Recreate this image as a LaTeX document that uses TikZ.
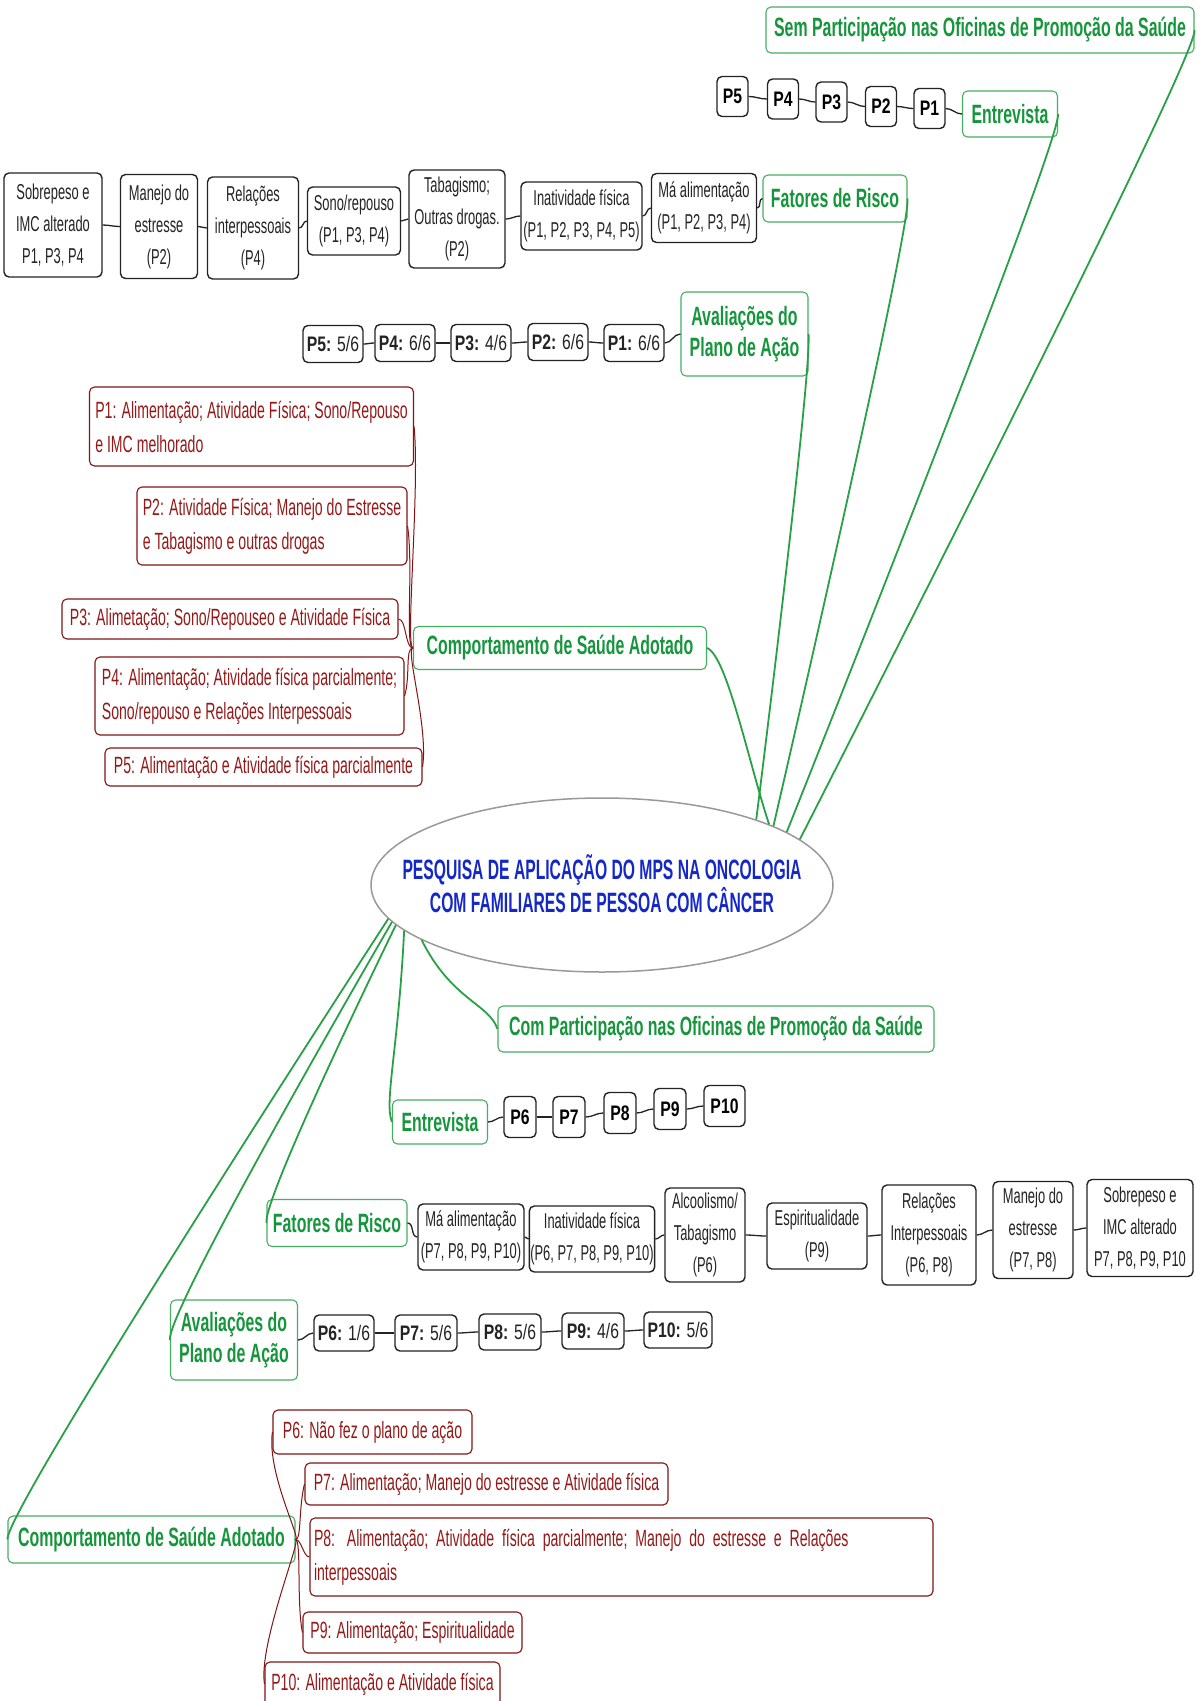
\documentclass[tikz,border=0pt]{standalone}
\usepackage{fontspec}
\setmainfont{Liberation Sans}[FakeStretch=0.6]
\newfontfamily\pfont{Liberation Sans}[FakeStretch=0.75]
\newfontfamily\titlefont{Liberation Sans}[FakeStretch=0.56]
\usetikzlibrary{shapes.geometric}
\definecolor{grn}{RGB}{22,150,60}
\definecolor{grnline}{RGB}{40,160,70}
\definecolor{grnbox}{RGB}{70,175,100}
\definecolor{dred}{RGB}{130,20,20}
\definecolor{redtxt}{RGB}{150,25,25}
\definecolor{ttlblue}{RGB}{20,40,200}
\definecolor{ink}{RGB}{35,35,35}
\tikzset{
  lvl/.style={draw=grnbox, line width=1.1pt, rounded corners=5pt, fill=white, text=grn,
    font=\fontsize{26.5}{31}\selectfont\bfseries, inner sep=2pt, align=center},
  pbox/.style={draw=ink, line width=1.4pt, rounded corners=5pt, fill=white, text=black,
    font=\pfont\fontsize{21}{22}\selectfont\bfseries, inner sep=1pt},
  fbox/.style={draw=ink, line width=1.4pt, rounded corners=5pt, fill=white, text=ink,
    font=\fontsize{21.5}{32}\selectfont, inner sep=1pt, align=center},
  abox/.style={draw=ink, line width=1.4pt, rounded corners=5pt, fill=white, text=ink,
    font=\pfont\fontsize{21}{22}\selectfont, inner sep=1pt},
  rbox/.style={draw=dred, line width=1.1pt, rounded corners=5pt, fill=white, text=redtxt,
    font=\fontsize{23.5}{34}\selectfont, inner xsep=4pt, inner ysep=2pt, align=left},
  gl/.style={draw=grnline, line width=1.8pt},
  rl/.style={draw=dred, line width=1pt},
  kl/.style={draw=ink, line width=1.3pt},
}
\begin{document}
\begin{tikzpicture}[x=1pt,y=-1pt]
\useasboundingbox (0,0) rectangle (1203,1701);
\fill[white] (0,0) rectangle (1203,1701);

% ---------- central topic ----------
\node[ellipse, draw=gray!80, line width=1.5pt, fill=white, minimum width=462, minimum height=174, inner sep=0] (ell) at (602,885) {};
\node[text=ttlblue, font=\titlefont\fontsize{28}{33}\selectfont\bfseries, align=center] (title) at (602,884)
  {PESQUISA DE APLICAÇÃO DO MPS NA ONCOLOGIA\\COM FAMILIARES DE PESSOA COM CÂNCER};

% ---------- group without workshops ----------
\node[lvl, minimum width=428, minimum height=46] (semP) at (980,30) {Sem Participação nas Oficinas de Promoção da Saúde};

\node[lvl, minimum width=95, minimum height=46] (entT) at (1010,114) {Entrevista};
\node[pbox, minimum width=31, minimum height=40] (tP1) at (929.5,108.5) {P1};
\node[pbox, minimum width=31, minimum height=40] (tP2) at (881,106.5) {P2};
\node[pbox, minimum width=31, minimum height=40] (tP3) at (831.5,102) {P3};
\node[pbox, minimum width=31, minimum height=40] (tP4) at (783,99) {P4};
\node[pbox, minimum width=31, minimum height=40] (tP5) at (732.5,96.5) {P5};

\node[lvl, minimum width=144, minimum height=47] (fatT) at (835,198.5) {Fatores de Risco};
\node[fbox, minimum width=105, minimum height=69] (maT) at (704,208) {Má alimentação\\(P1, P2, P3, P4)};
\node[fbox, minimum width=121, minimum height=68] (inT) at (581.5,216) {Inatividade física\\(P1, P2, P3, P4, P5)};
\node[fbox, minimum width=96, minimum height=98] (tabT) at (457,219) {Tabagismo;\\Outras drogas.\\(P2)};
\node[fbox, minimum width=93, minimum height=68] (sonT) at (354,221) {Sono/repouso\\(P1, P3, P4)};
\node[fbox, minimum width=91, minimum height=102] (relT) at (253,228) {Relações\\interpessoais\\(P4)};
\node[fbox, minimum width=77, minimum height=104] (manT) at (159,226.5) {Manejo do\\estresse\\(P2)};
\node[fbox, minimum width=98, minimum height=104] (sobT) at (53,225) {Sobrepeso e\\IMC alterado\\P1, P3, P4};

\node[lvl, minimum width=127, minimum height=84] (avT) at (744.5,334) {Avaliações do\\Plano de Ação};
\node[abox, minimum width=60, minimum height=37] (aP1) at (634,343) {\textbf{P1:} 6/6};
\node[abox, minimum width=60, minimum height=37] (aP2) at (558,342) {\textbf{P2:} 6/6};
\node[abox, minimum width=60, minimum height=37] (aP3) at (481,343) {\textbf{P3:} 4/6};
\node[abox, minimum width=60, minimum height=37] (aP4) at (405,343) {\textbf{P4:} 6/6};
\node[abox, minimum width=60, minimum height=37] (aP5) at (333,344) {\textbf{P5:} 5/6};

\node[lvl, minimum width=293, minimum height=43] (comT) at (560,648) {Comportamento de Saúde Adotado};
\node[rbox, minimum width=324, minimum height=79] (rP1) at (251.5,426.5) {P1: Alimentação; Atividade Física; Sono/Repouso\\e IMC melhorado};
\node[rbox, minimum width=270, minimum height=78] (rP2) at (272,526) {P2: Atividade Física; Manejo do Estresse\\e Tabagismo e outras drogas};
\node[rbox, minimum width=336, minimum height=40] (rP3) at (230,619) {P3: Alimetação; Sono/Repouseo e Atividade Física};
\node[rbox, minimum width=309, minimum height=78] (rP4) at (249.5,696) {P4: Alimentação; Atividade física parcialmente;\\Sono/repouso e Relações Interpessoais};
\node[rbox, minimum width=317, minimum height=38] (rP5) at (263.5,767) {P5: Alimentação e Atividade física parcialmente};

% ---------- group with workshops ----------
\node[lvl, minimum width=436, minimum height=46] (comB) at (716,1029) {Com Participação nas Oficinas de Promoção da Saúde};

\node[lvl, minimum width=95, minimum height=44] (entB) at (440,1122) {Entrevista};
\node[pbox, minimum width=32, minimum height=41] (bP6) at (520,1117) {P6};
\node[pbox, minimum width=32, minimum height=41] (bP7) at (569,1117) {P7};
\node[pbox, minimum width=32, minimum height=41] (bP8) at (620,1113) {P8};
\node[pbox, minimum width=32, minimum height=41] (bP9) at (670,1109) {P9};
\node[pbox, minimum width=41, minimum height=41] (bP10) at (724.5,1106) {P10};

\node[lvl, minimum width=140, minimum height=47] (fatB) at (337,1223) {Fatores de Risco};
\node[fbox, minimum width=106, minimum height=66] (maB) at (471,1237) {Má alimentação\\(P7, P8, P9, P10)};
\node[fbox, minimum width=124, minimum height=66] (inB) at (592,1239) {Inatividade física\\(P6, P7, P8, P9, P10)};
\node[fbox, minimum width=80, minimum height=94] (alcB) at (705,1235) {Alcoolismo/\\Tabagismo\\(P6)};
\node[fbox, minimum width=100, minimum height=66] (espB) at (817,1236) {Espiritualidade\\(P9)};
\node[fbox, minimum width=94, minimum height=100] (relB) at (929,1235) {Relações\\Interpessoais\\(P6, P8)};
\node[fbox, minimum width=80, minimum height=97] (manB) at (1033,1230) {Manejo do\\estresse\\(P7, P8)};
\node[fbox, minimum width=106, minimum height=97] (sobB) at (1140,1228) {Sobrepeso e\\IMC alterado\\P7, P8, P9, P10};

\node[lvl, minimum width=127, minimum height=80] (avB) at (234,1340) {Avaliações do\\Plano de Ação};
\node[abox, minimum width=60, minimum height=36] (aP6) at (344,1333) {\textbf{P6:} 1/6};
\node[abox, minimum width=62, minimum height=36] (aP7) at (426,1333) {\textbf{P7:} 5/6};
\node[abox, minimum width=62, minimum height=36] (aP8) at (510,1332) {\textbf{P8:} 5/6};
\node[abox, minimum width=62, minimum height=36] (aP9) at (593,1331) {\textbf{P9:} 4/6};
\node[abox, minimum width=68, minimum height=36] (aP10) at (678,1330) {\textbf{P10:} 5/6};

\node[lvl, minimum width=287, minimum height=47] (comL) at (151.5,1539.5) {Comportamento de Saúde Adotado};
\node[rbox, minimum width=199, minimum height=44] (rP6) at (372.5,1432) {P6: Não fez o plano de ação};
\node[rbox, minimum width=363, minimum height=42] (rP7) at (486.5,1484) {P7: Alimentação; Manejo do estresse e Atividade física};
\node[rbox, text width=615, minimum height=78] (rP8) at (621.5,1557) {P8: Alimentação; Atividade física parcialmente; Manejo do estresse e Relações\\interpessoais};
\node[rbox, minimum width=219, minimum height=41] (rP9) at (412.5,1632.5) {P9: Alimentação; Espiritualidade};
\node[rbox, minimum width=235, minimum height=44] (rP10) at (382.5,1684) {P10: Alimentação e Atividade física};

% ---------- main branches ----------
\draw[gl] (ell.13) .. controls +(0,0) and +(3,30) .. (semP.east);
\draw[gl] (ell.16) .. controls +(0,0) and +(3,30) .. (entT.east);
\draw[gl] (ell.19) .. controls +(0,0) and +(3,35) .. (fatT.east);
\draw[gl] (ell.23) .. controls +(0,0) and +(3,45) .. (avT.east);
\draw[gl] (ell.20) .. controls +(-20,-60) and +(20,8) .. (comT.east);

\draw[gl] (ell.197) .. controls +(30,60) and +(-8,-25) .. (comB.west);
\draw[gl] (ell.193) .. controls +(-6,120) and +(-8,-20) .. (entB.west);
\draw[gl] (ell.191) .. controls +(0,0) and +(-4,-25) .. (fatB.west);
\draw[gl] (ell.190) .. controls +(0,0) and +(-4,-30) .. (avB.west);
\draw[gl] (ell.189) .. controls +(0,0) and +(-3,-30) .. (comL.west);

% ---------- chains of sub-topics ----------
\foreach \a/\b in {entT/tP1, tP1/tP2, tP2/tP3, tP3/tP4, tP4/tP5,
                   fatT/maT, maT/inT, inT/tabT, tabT/sonT, sonT/relT, relT/manT, manT/sobT,
                   avT/aP1, aP1/aP2, aP2/aP3, aP3/aP4, aP4/aP5}
  \draw[kl] (\a.west) to[out=180, in=0] (\b.east);
\foreach \a/\b in {entB/bP6, bP6/bP7, bP7/bP8, bP8/bP9, bP9/bP10,
                   fatB/maB, maB/inB, inB/alcB, alcB/espB, espB/relB, relB/manB, manB/sobB,
                   avB/aP6, aP6/aP7, aP7/aP8, aP8/aP9, aP9/aP10}
  \draw[kl] (\a.east) to[out=0, in=180] (\b.west);

% ---------- adopted behaviours ----------
\draw[rl] (comT.west) .. controls +(-8,0) and +(6,60) .. (rP1.east);
\draw[rl] (comT.west) .. controls +(-8,0) and +(6,40) .. (rP2.east);
\draw[rl] (comT.west) .. controls +(-8,0) and +(8,0) .. (rP3.east);
\draw[rl] (comT.west) .. controls +(-8,0) and +(6,-20) .. (rP4.east);
\draw[rl] (comT.west) .. controls +(-8,0) and +(6,-40) .. (rP5.east);

\draw[rl] (comL.east) .. controls +(6,0) and +(-6,40) .. (rP6.west);
\draw[rl] (comL.east) .. controls +(6,0) and +(-6,25) .. (rP7.west);
\draw[rl] (comL.east) .. controls +(6,0) and +(-6,0) .. (rP8.west);
\draw[rl] (comL.east) .. controls +(6,0) and +(-6,-30) .. (rP9.west);
\draw[rl] (comL.east) .. controls +(6,0) and +(-6,-40) .. (rP10.west);
\end{tikzpicture}
\end{document}
